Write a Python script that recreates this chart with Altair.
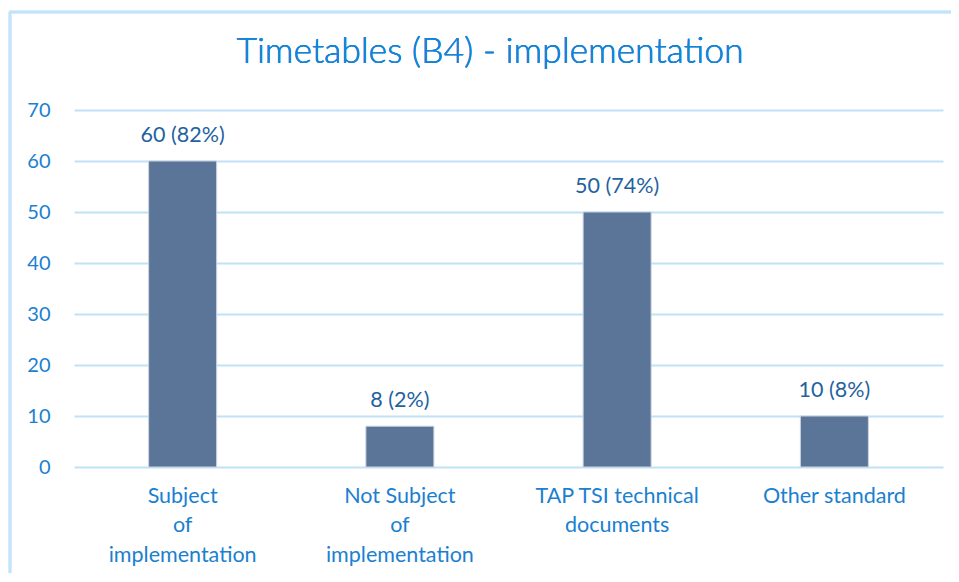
import altair as alt
import pandas as pd

categories = [
    "Subject\nof\nimplementation",
    "Not Subject\nof\nimplementation",
    "TAP TSI technical\ndocuments",
    "Other standard",
]
counts = [60, 8, 50, 10]
percents = ["82%", "2%", "74%", "8%"]
title_text = "Timetables (B4) - implementation"

df = pd.DataFrame({
    "category": categories,
    "count": counts,
    "label": [f"{c} ({p})" for c, p in zip(counts, percents)],
})

FONT = "Lato"
AXIS_BLUE = "#1A80D0"
LABEL_BLUE = "#1F62A0"
BAR = "#5B7599"
GRID = "#C0E2F6"
FRAME = "#C2E4FA"

base = alt.Chart(df)

x_enc = alt.X(
    "category:N",
    sort=categories,
    scale=alt.Scale(paddingInner=0, paddingOuter=0),
    axis=alt.Axis(
        title=None,
        labelAngle=0,
        labelExpr="split(datum.label, '\\n')",
        labelFont=FONT,
        labelFontSize=21.5,
        labelColor=AXIS_BLUE,
        labelLineHeight=29.5,
        labelPadding=18,
        labelLimit=300,
        domain=False,
        ticks=False,
        grid=False,
    ),
)

y_enc = alt.Y(
    "count:Q",
    scale=alt.Scale(domain=[0, 70]),
    axis=alt.Axis(
        title=None,
        values=[0, 10, 20, 30, 40, 50, 60, 70],
        labelFont=FONT,
        labelFontSize=20,
        labelColor=AXIS_BLUE,
        labelPadding=24,
        domain=False,
        ticks=False,
        grid=True,
        gridColor=GRID,
        gridWidth=2,
    ),
)

bars = base.mark_bar(size=68, color=BAR, stroke="#C9D3E0", strokeWidth=1).encode(
    x=x_enc, y=y_enc
)

texts = base.mark_text(
    font=FONT, fontSize=21.5, color=LABEL_BLUE, baseline="alphabetic", dy=-19
).encode(x=x_enc, y=y_enc, text="label:N")

title_mark = base.mark_text(
    text=title_text,
    font=FONT,
    fontSize=35.5,
    fontWeight=300,
    color="#1484D6",
    align="center",
    baseline="alphabetic",
).encode(x=alt.value(416), y=alt.value(-47))

frame_left = base.mark_rule(color=FRAME, strokeWidth=2.5).encode(
    x=alt.value(-64), y=alt.value(-98), y2=alt.value(480)
)
frame_top = base.mark_rule(color=FRAME, strokeWidth=2.5).encode(
    x=alt.value(-65), x2=alt.value(890), y=alt.value(-98)
)

chart = (
    alt.layer(frame_left, frame_top, bars, texts, title_mark)
    .properties(
        width=869,
        height=357,
        autosize=alt.AutoSizeParams(type="none"),
        padding={"left": 66, "top": 102, "right": 8, "bottom": 106},
        view=alt.ViewBackground(strokeWidth=0, strokeOpacity=0),
    )
    .configure_view(strokeOpacity=0, strokeWidth=0)
    .configure(background="white")
)

chart.save("out.html", embed_options={"renderer": "svg", "actions": False})
